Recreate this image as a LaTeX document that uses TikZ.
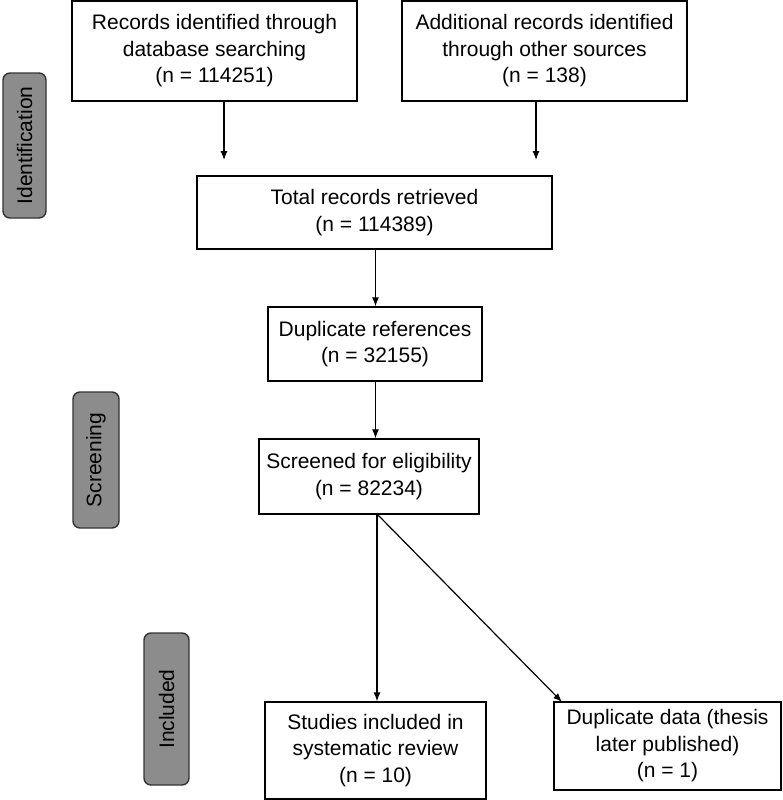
\documentclass[tikz,border=0pt]{standalone}
\usepackage{fontspec}
\setmainfont{Liberation Sans}
\usepackage{tikz}
\usetikzlibrary{arrows.meta,positioning}

\tikzset{
  box/.style={draw, line width=1.4pt, align=center, inner sep=0pt,
    font=\fontsize{21}{26.5}\selectfont},
  phase/.style={draw=black!80, line width=1.4pt, fill=black!45, rounded corners=7pt,
    rotate=90, inner sep=0pt, font=\fontsize{21}{26}\selectfont},
  flow/.style={-{Latex[length=9pt,width=7pt]}, line width=1.2pt}
}

\begin{document}
\begin{tikzpicture}[x=1pt,y=-1pt]
\useasboundingbox (0,0) rectangle (782,800);

% phases
\node[phase, minimum width=145pt, minimum height=43pt] (ident) at (24.5,145.5) {Identification};
\node[phase, minimum width=136pt, minimum height=46pt] (screen) at (96,460) {Screening};
\node[phase, minimum width=152pt, minimum height=45pt] (incl) at (166.5,709) {Included};

% boxes
\node[box, minimum width=285pt, minimum height=100pt] (recdb) at (214.5,51) {Records identified through\\database searching\\(n = 114251)};
\node[box, minimum width=285pt, minimum height=100pt] (recother) at (544.5,51) {Additional records identified\\through other sources\\(n = 138)};
\node[box, minimum width=355pt, minimum height=73pt] (total) at (374.5,212.5) {Total records retrieved\\(n = 114389)};
\node[box, minimum width=214pt, minimum height=74pt] (dupref) at (375,344) {Duplicate references\\(n = 32155)};
\node[box, minimum width=220pt, minimum height=75pt] (screened) at (369,476.5) {Screened for eligibility\\(n = 82234)};
\node[box, minimum width=221pt, minimum height=97pt] (studies) at (375.5,750.5) {Studies included in\\systematic review\\(n = 10)};
\node[box, minimum width=227pt, minimum height=88pt] (dupdata) at (667.5,746) {Duplicate data (thesis\\later published)\\(n = 1)};

% arrows
\coordinate (tipdb) at (224,160);
\coordinate (tipother) at (536,160);
\draw[flow] (recdb.south -| tipdb) -- (tipdb);
\draw[flow] (recother.south -| tipother) -- (tipother);
\draw[flow] (total.south -| 375.5,0) -- (dupref.north -| 375.5,0);
\draw[flow] (dupref.south -| 375.5,0) -- (screened.north -| 375.5,0);

\coordinate (split) at (377,514);
\coordinate (tipdd) at (562,702);
\draw[flow] (split) -- (split |- studies.north);
\draw[flow] (split) -- (tipdd);
\end{tikzpicture}
\end{document}
